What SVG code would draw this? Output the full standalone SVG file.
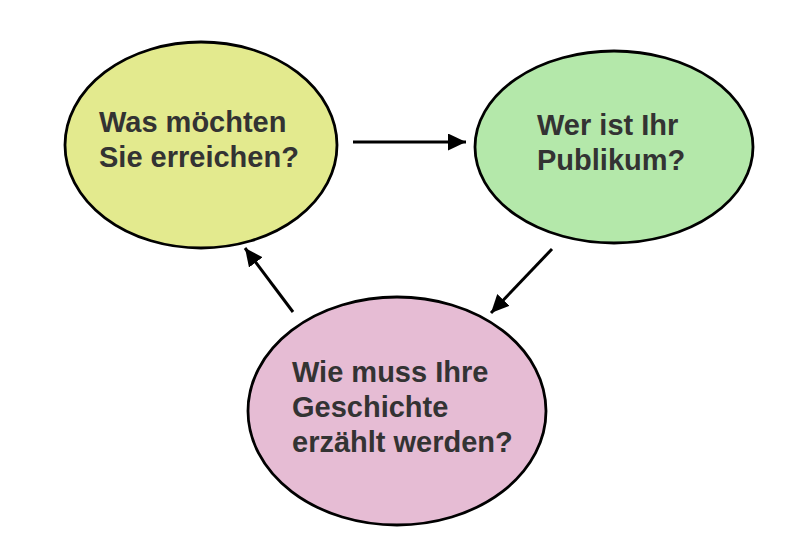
<svg xmlns="http://www.w3.org/2000/svg" width="795" height="539" viewBox="0 0 795 539">
<style>
.node{stroke:#000;stroke-width:2.8}
.lbl{font-family:"Liberation Sans",Arial,sans-serif;font-weight:bold;font-size:29px;fill:#333}
.conn{stroke:#000;stroke-width:3;fill:none}
</style>
<defs>
<marker id="ah" markerUnits="userSpaceOnUse" markerWidth="20" markerHeight="18" refX="18" refY="8.5" orient="auto">
<path d="M0,0 L18,8.5 L0,17 Z" fill="#000"/>
</marker>
</defs>
<rect width="795" height="539" fill="#fff"/>
<g id="connectors">
<line class="conn" x1="353" y1="142" x2="466" y2="142" marker-end="url(#ah)"/>
<line class="conn" x1="552" y1="249" x2="491" y2="313" marker-end="url(#ah)"/>
<line class="conn" x1="293" y1="312" x2="245" y2="248" marker-end="url(#ah)"/>
</g>
<g id="node-ziel">
<ellipse class="node" cx="201" cy="145" rx="136" ry="103" fill="#e3ea8e"/>
<text class="lbl" x="99" y="132">Was möchten</text>
<text class="lbl" x="99" y="167">Sie erreichen?</text>
</g>
<g id="node-publikum">
<ellipse class="node" cx="614" cy="147" rx="139" ry="96" fill="#b4e8aa"/>
<text class="lbl" x="537" y="135">Wer ist Ihr</text>
<text class="lbl" x="537" y="170">Publikum?</text>
</g>
<g id="node-geschichte">
<ellipse class="node" cx="397" cy="411" rx="149" ry="114" fill="#e6bcd4"/>
<text class="lbl" x="292" y="382">Wie muss Ihre</text>
<text class="lbl" x="292" y="417">Geschichte</text>
<text class="lbl" x="292" y="452">erzählt werden?</text>
</g>
</svg>
